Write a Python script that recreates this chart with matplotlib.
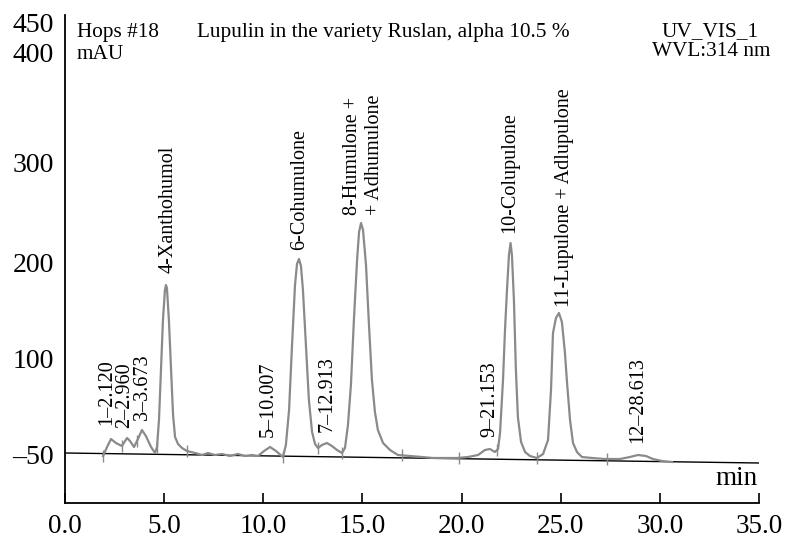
import numpy as np
import matplotlib
matplotlib.use("Agg")
import matplotlib.pyplot as plt

plt.rcParams['font.family'] = ['Liberation Serif', 'DejaVu Serif']

# chromatogram trace (time in min, signal in mAU)
time_min = [1.92, 2.12, 2.32, 2.57, 2.87, 3.13, 3.28, 3.48, 3.68, 3.88, 4.08, 4.34, 4.54,
            4.64, 4.74, 4.84, 4.94, 5.04, 5.09, 5.14, 5.24, 5.35, 5.45, 5.55, 5.70, 5.90,
            6.15, 6.56, 6.91, 7.21, 7.56, 7.92, 8.32, 8.72, 9.08, 9.43, 9.73, 10.04, 10.34,
            10.64, 10.99,
            11.14, 11.30, 11.45, 11.60, 11.70, 11.80, 11.90, 12.00, 12.15, 12.30, 12.46,
            12.61, 12.76, 12.96, 13.21, 13.46, 13.72, 13.97,
            14.12, 14.27, 14.42, 14.57, 14.73, 14.83, 14.93, 15.03, 15.18, 15.33, 15.48,
            15.63, 15.78, 16.04, 16.39, 16.79,
            17.40, 18.00, 18.56, 19.16, 19.77, 20.32, 20.83, 21.18, 21.43, 21.68,
            21.84, 21.94, 22.09, 22.19, 22.29, 22.39, 22.47, 22.54, 22.64, 22.74, 22.84,
            23.00, 23.20, 23.45, 23.80,
            24.11, 24.36, 24.51, 24.61, 24.76, 24.91, 25.06, 25.21, 25.32, 25.47, 25.62,
            25.82, 26.07,
            26.58, 27.23, 27.99, 28.49, 28.90, 29.30, 29.65, 30.11, 30.61]
signal = [-1, 8, 16, 12, 9, 17, 14, 8, 16, 25, 19, 8, 2,
          8, 35, 85, 135, 165, 170, 167, 135, 85, 40, 18, 11, 7,
          4, 2, 0, 2, 0, 1, -1, 1, -1, 0, -1, 4, 8,
          4, -2,
          10, 45, 110, 170, 191, 196, 189, 165, 110, 55, 23,
          11, 7, 10, 12, 9, 5, 2,
          7, 30, 70, 135, 195, 223, 232, 225, 190, 130, 75,
          43, 25, 12, 5, 0,
          -1, -2, -3, -3, -3, -2, 0, 5, 6, 3,
          6, 22, 75, 125, 165, 200, 212, 200, 155, 85, 38,
          13, 3, -1, -3,
          1, 15, 65, 122, 137, 142, 133, 103, 72, 35, 12,
          3, -2,
          -3, -4, -4, -2, 0, -1, -4, -6, -7]

# integration marks (peak boundaries)
cut_times = [1.92, 2.87, 3.63, 4.64, 6.15, 10.99, 12.76, 13.97, 17.0, 19.87, 21.79, 23.80, 27.33]

# drifting baseline drawn by the software
base_t = [0.0, 35.0]
base_v = [2, -8]

peak_labels = ["1\u20132.120", "2\u20132.960", "3\u20133.673", "4-Xanthohumol", "5\u201310.007",
               "6-Cohumulone", "7\u201312.913", "8-Humulone +\n+ Adhumulone", "9\u201321.153",
               "10-Colupulone", "11-Lupulone + Adlupulone", "12\u201328.613"]
label_t = [2.12, 3.03, 3.93, 5.19, 10.24, 11.85, 13.21, 15.05, 21.43, 22.44, 25.21, 28.90]
label_v = [30, 27, 35, 182, 18, 205, 23, 240, 18, 222, 148, 12]

xticks = [0, 5, 10, 15, 20, 25, 30, 35]
xtick_labels = ["0.0", "5.0", "10.0", "15.0", "20.0", "25.0", "30.0", "35.0"]
ytick_pos = [0, 97, 192, 292, 403, 433]
ytick_labels = ["\u201350", "100", "200", "300", "400", "450"]

fig = plt.figure(figsize=(8.01, 5.40), dpi=100)
ax = fig.add_axes([65 / 801, 37 / 540, 694 / 801, 488 / 540])

ax.plot(base_t, base_v, color="black", lw=1.0)
ax.plot(time_min, signal, color="#8a8a8a", lw=1.6, solid_joinstyle="round")

cut_v = np.interp(cut_times, time_min, signal)
ax.vlines(cut_times, cut_v - 6, cut_v + 6, color="#8a8a8a", lw=1.0)

for txt, t, v in zip(peak_labels, label_t, label_v):
    ax.text(t, v, txt, rotation=90, ha="center", va="bottom", fontsize=14.5,
            multialignment="left", color="black")

ax.set_xlim(0, 35)
ax.set_ylim(-48, 440)
ax.set_xticks(xticks)
ax.set_xticklabels(xtick_labels, fontsize=19.5)
ax.set_yticks(ytick_pos)
ax.set_yticklabels(ytick_labels, fontsize=20)
ax.tick_params(axis="x", direction="in", length=7, width=1.2, pad=8)
ax.tick_params(axis="y", length=0, pad=8)

for s in ["top", "right"]:
    ax.spines[s].set_visible(False)
for s in ["left", "bottom"]:
    ax.spines[s].set_linewidth(1.3)

fig.text(77 / 801, 1 - 37 / 540, "Hops #18", fontsize=15.3, va="baseline")
fig.text(77 / 801, 1 - 59 / 540, "mAU", fontsize=15.3, va="baseline")
fig.text(197 / 801, 1 - 37 / 540, "Lupulin in the variety Ruslan, alpha 10.5 %", fontsize=15.3,
         va="baseline")
fig.text(710 / 801, 1 - 36 / 540, "UV_VIS_1", fontsize=15.3, va="baseline", ha="center")
fig.text(711 / 801, 1 - 56 / 540, "WVL:314 nm", fontsize=15.3, va="baseline", ha="center")
fig.text(758 / 801, 1 - 485 / 540, "min", fontsize=19.5, va="baseline", ha="right")

fig.savefig("out.png", dpi=100)
